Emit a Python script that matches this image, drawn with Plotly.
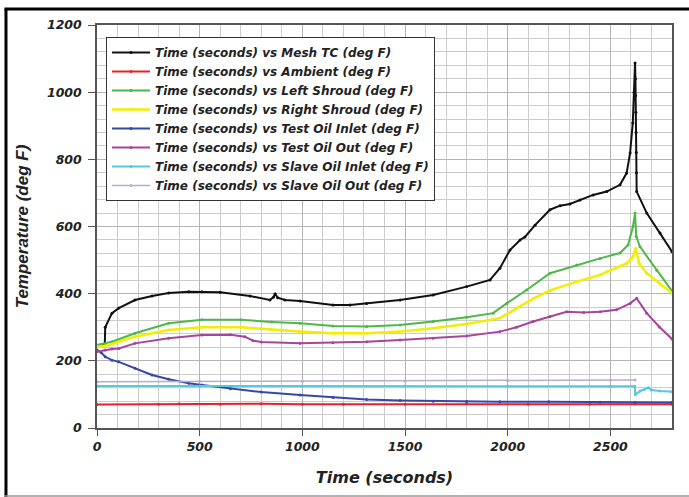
import plotly.graph_objects as go

# ---------------- data ----------------
mesh_t = [0, 20, 38, 40, 73, 106, 185, 268, 349, 447, 511, 600, 745, 842, 860, 867, 880, 915, 989,
          1149, 1232, 1313, 1476, 1637, 1800, 1914, 1962, 2011, 2060, 2084, 2133, 2206, 2255, 2303,
          2352, 2416, 2482, 2547, 2579, 2596, 2609, 2615, 2620, 2622, 2623, 2624, 2625, 2626, 2627,
          2628, 2677, 2742, 2800]
mesh_v = [245, 247, 250, 300, 342, 357, 381, 393, 402, 406, 406, 404, 393, 381, 390, 400, 388, 381, 378,
          366, 366, 371, 381, 396, 421, 441, 476, 530, 560, 569, 604, 650, 662, 667,
          679, 694, 704, 724, 759, 819, 908, 1000, 1087, 1040, 990, 940, 880, 820, 760,
          704, 640, 581, 525]

amb_t = [0, 300, 400, 600, 800, 1000, 1200, 1500, 1800, 2100, 2400, 2620, 2800]
amb_v = [70, 71, 72, 71, 72, 71, 71, 71, 72, 71, 71, 72, 71]

left_t = [0, 73, 185, 349, 511, 700, 850, 989, 1149, 1313, 1476, 1637, 1800, 1929, 1995, 2092,
          2206, 2336, 2450, 2547, 2586, 2610, 2620, 2626, 2644, 2726, 2800]
left_v = [247, 257, 282, 312, 322, 322, 316, 312, 304, 302, 307, 317, 330, 342, 371, 411,
          461, 485, 505, 521, 545, 600, 640, 570, 540, 470, 408]

right_t = [0, 40, 73, 185, 349, 511, 700, 850, 989, 1149, 1313, 1476, 1637, 1800, 1962, 2043,
           2124, 2206, 2336, 2450, 2482, 2579, 2610, 2623, 2640, 2677, 2740, 2800]
right_v = [242, 245, 250, 272, 292, 300, 300, 293, 287, 282, 282, 287, 297, 310, 327, 356,
           385, 410, 436, 456, 465, 490, 510, 535, 490, 461, 430, 402]

tin_t = [0, 20, 40, 73, 106, 185, 268, 349, 447, 511, 650, 800, 989, 1150, 1313, 1476, 1637,
         1800, 1962, 2200, 2450, 2620, 2800]
tin_v = [232, 225, 212, 202, 197, 178, 158, 145, 133, 128, 117, 107, 98, 91, 85, 82, 80,
         79, 78, 78, 77, 77, 76]

tout_t = [0, 40, 73, 106, 185, 349, 511, 650, 720, 760, 800, 989, 1149, 1313, 1476, 1637, 1800,
          1962, 2043, 2124, 2206, 2287, 2370, 2450, 2530, 2596, 2628, 2677, 2740, 2800]
tout_v = [227, 232, 235, 237, 252, 267, 277, 278, 272, 260, 256, 252, 254, 257, 262, 267, 274,
          287, 300, 317, 332, 346, 344, 346, 352, 371, 386, 342, 300, 265]

sin_t = [0, 500, 1000, 1500, 2000, 2500, 2618, 2622, 2645, 2665, 2685, 2700, 2740, 2800]
sin_v = [125, 125, 125, 125, 125, 124, 124, 100, 110, 115, 120, 113, 110, 108]

sout_t = [0, 500, 1000, 1500, 2000, 2500, 2620]
sout_v = [138, 139, 139, 140, 141, 142, 143]

x_ticks = [0, 500, 1000, 1500, 2000, 2500]
y_ticks = [0, 200, 400, 600, 800, 1000, 1200]

series = [
    ("Time (seconds) vs Mesh TC (deg F)", mesh_t, mesh_v, "#111111", 2),
    ("Time (seconds) vs Ambient (deg F)", amb_t, amb_v, "#e8202a", 2),
    ("Time (seconds) vs Left Shroud (deg F)", left_t, left_v, "#4db848", 2),
    ("Time (seconds) vs Right Shroud (deg F)", right_t, right_v, "#f2ee00", 2.5),
    ("Time (seconds) vs Test Oil Inlet (deg F)", tin_t, tin_v, "#3548a8", 2),
    ("Time (seconds) vs Test Oil Out (deg F)", tout_t, tout_v, "#a8449c", 2),
    ("Time (seconds) vs Slave Oil Inlet (deg F)", sin_t, sin_v, "#56c8e0", 2),
    ("Time (seconds) vs Slave Oil Out (deg F)", sout_t, sout_v, "#b8acc8", 1.5),
]

WIDE = "'DejaVu Sans', Verdana, sans-serif"
ARIAL = "Arial, 'Liberation Sans', sans-serif"

fig = go.Figure()
for name, t, v, col, w in series:
    fig.add_trace(go.Scatter(
        x=t, y=v, name=name, mode="lines+markers",
        line=dict(color=col, width=w),
        marker=dict(color=col, size=3),
    ))

fig.update_layout(
    width=689, height=497,
    margin=dict(l=97, r=17, t=25, b=69),
    paper_bgcolor="white", plot_bgcolor="white",
    font=dict(family=WIDE, color="#222222"),
    showlegend=True,
    legend=dict(
        x=0.0157, y=0.97, xanchor="left", yanchor="top",
        bgcolor="white", bordercolor="#333333", borderwidth=1,
        itemwidth=38,
        font=dict(family=WIDE, size=12, color="#222222", style="italic", weight="bold"),
    ),
    xaxis=dict(
        range=[0, 2800], tickvals=x_ticks, ticktext=[str(v) for v in x_ticks],
        showgrid=True, gridcolor="#b4b4b4", gridwidth=1,
        minor=dict(dtick=100, tick0=0, showgrid=True, gridcolor="#cccccc", gridwidth=1),
        showline=True, linecolor="#555555", linewidth=1.5, mirror=True,
        ticks="outside", ticklen=6, tickcolor="#555555",
        tickfont=dict(family=WIDE, size=12.5, color="#222222", style="italic", weight="bold"),
        ticklabelstandoff=0,
        zeroline=False,
        title=dict(text="Time (seconds)", standoff=19,
                   font=dict(family=WIDE, size=16, color="#222222", style="italic", weight="bold")),
    ),
    yaxis=dict(
        range=[0, 1200], tickvals=y_ticks, ticktext=[str(v) for v in y_ticks],
        showgrid=True, gridcolor="#b4b4b4", gridwidth=1,
        minor=dict(dtick=40, tick0=0, showgrid=True, gridcolor="#cccccc", gridwidth=1),
        showline=True, linecolor="#555555", linewidth=1.5, mirror=True,
        ticks="outside", ticklen=7, tickcolor="#555555",
        tickfont=dict(family=WIDE, size=12.5, color="#222222", style="italic", weight="bold"),
        ticklabelstandoff=4,
        zeroline=False,
        title=dict(text="Temperature (deg F)", standoff=14,
                   font=dict(family=ARIAL, size=17, color="#222222", style="italic", weight="bold")),
    ),
    shapes=[
        dict(type="line", xref="paper", yref="paper", x0=-0.1583, x1=-0.1583, y0=1.04, y1=-0.175,
             line=dict(color="black", width=3)),
        dict(type="line", xref="paper", yref="paper", x0=-0.1609, x1=1.03, y0=1.0397, y1=1.0397,
             line=dict(color="black", width=3)),
        dict(type="line", xref="paper", yref="paper", x0=-0.1609, x1=1.03, y0=-0.1687, y1=-0.1687,
             line=dict(color="#999999", width=1.5)),
    ],
)

fig.write_html("out.html", config={"displayModeBar": False},
               post_script="document.body.style.margin='0';")
